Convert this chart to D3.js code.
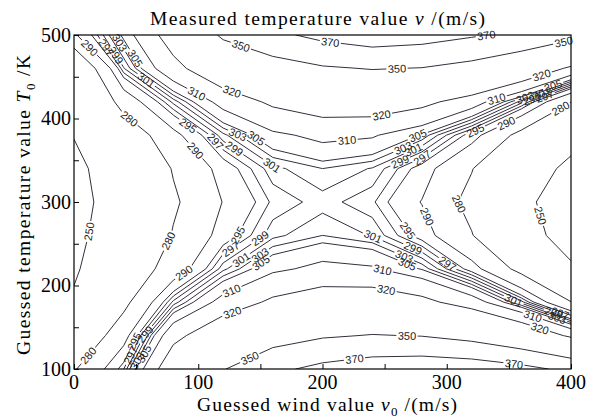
<!DOCTYPE html>
<html><head><meta charset="utf-8">
<script src="https://cdn.jsdelivr.net/npm/d3@7"></script>
<style>body{margin:0;background:#fff}svg{display:block}</style>
</head><body>
<svg id="chart" width="599" height="418"></svg>
<script>
// ---- data ----
const windGrid = [0, 40, 80, 120, 160, 200, 240, 280, 320, 360, 400];
const tempGrid = [100, 140, 180, 220, 260, 300, 340, 380, 420, 460, 500];
// measured temperature on the grid, one array per guessed temperature
const row100 = [279, 297, 330, 349, 365.7, 375, 380.9, 383, 381.3, 375.5, 365.4];
const row140 = [268, 287, 316.3, 330.5, 341.2, 348, 350.8, 349.4, 343.6, 333, 317.6];
const row180 = [253, 277, 299.7, 312.9, 322.1, 327, 327.5, 323.3, 314.2, 300, 280.4];
const row220 = [247, 271.4, 285, 300.3, 308.4, 312, 310.8, 304.6, 293.2, 276.4, 253.8];
const row260 = [244.1, 264.5, 280.8, 292.8, 300.3, 303, 300.8, 293.4, 280.6, 262.2, 237.9];
const row300 = [241.9, 262.2, 278.4, 290.25, 297.5, 300, 297.45, 289.7, 276.4, 257.5, 232.6];
const row340 = [244.1, 264.5, 280.8, 292.8, 300.3, 303, 300.8, 293.4, 280.6, 262.2, 245];
const row380 = [250.8, 271.3, 287.9, 300.3, 308.4, 312, 310.8, 304.6, 293.2, 276.4, 258];
const row420 = [258, 285, 299.7, 312.9, 322.1, 327, 327.5, 323.3, 314.2, 300, 280.4];
const row460 = [266, 298.8, 316.3, 330.5, 341.2, 348, 350.8, 349.4, 343.6, 333, 317.6];
const row500 = [289, 306, 326, 353.2, 365.7, 375, 380.9, 378, 372, 366, 356];
const levels = [250, 280, 290, 295, 297, 299, 301, 303, 305, 310, 320, 350, 370];
const xTicks = [0, 100, 200, 300, 400];
const yTicks = [100, 200, 300, 400, 500];
// contour labels: [level, wind, temperature]
const contourLabels = [
  [290, 12, 484], [297, 22, 481], [303, 34, 488], [299, 32, 474], [305, 47, 470], [301, 59, 448],
  [280, 42, 395], [310, 98, 428], [320, 126, 428], [350, 134, 486],
  [295, 91, 390], [290, 95, 358], [297, 109, 366], [299, 126, 357], [303, 131, 378], [305, 144, 371], [301, 158, 341],
  [250, 15, 264], [280, 78, 252], [290, 90, 212], [295, 132, 260], [297, 125, 246], [299, 151, 254],
  [301, 135, 230], [303, 150, 236], [305, 151, 226], [310, 128, 190], [320, 129, 161], [350, 143, 108],
  [280, 14, 113], [297, 41, 120], [295, 50, 132], [299, 57, 142], [303, 47, 113], [305, 53, 121],
  [370, 206, 488], [350, 260, 458], [320, 248, 400], [310, 220, 370],
  [303, 263, 371], [305, 277, 378], [299, 262, 350], [301, 274, 360], [297, 283, 347],
  [295, 321, 392], [290, 348, 394], [310, 340, 424], [320, 375, 458], [350, 394, 492], [370, 332, 498],
  [280, 391, 414], [303, 362, 430], [299, 368, 425], [301, 375, 436], [297, 380, 422], [305, 385, 442],
  [290, 282, 281], [280, 310, 298], [250, 374, 283], [301, 241, 260], [310, 248, 217], [320, 251, 193],
  [295, 265, 262], [299, 272, 242], [303, 265, 232], [305, 268, 225], [297, 300, 225],
  [301, 354, 183], [310, 370, 167], [320, 375, 149], [299, 388, 175], [297, 392, 170], [303, 388, 158],
  [350, 268, 139], [370, 226, 109], [370, 354, 105]
];

// ---- layout ----
const L = 74, R = 571, T = 35, B = 369;
const svg = d3.select('#chart');
const x = d3.scaleLinear().domain([0, 400]).range([L, R]);
const y = d3.scaleLinear().domain([100, 500]).range([B, T]);
const lineColor = '#352d3c';

const rows = [row100, row140, row180, row220, row260, row300, row340, row380, row420, row460, row500];
const nx = windGrid.length, ny = tempGrid.length;
const values = rows.flat();
const contours = d3.contours().size([nx, ny]).thresholds(levels)(values);
const ix = d3.scaleLinear().domain([0.5, nx - 0.5]).range([windGrid[0], windGrid[nx - 1]]);
const iy = d3.scaleLinear().domain([0.5, ny - 0.5]).range([tempGrid[0], tempGrid[ny - 1]]);
const toPx = p => [x(ix(p[0])), y(iy(p[1]))];
const proj = d3.geoTransform({ point(px, py) { const q = toPx([px, py]); this.stream.point(q[0], q[1]); } });
const path = d3.geoPath(proj);

const defs = svg.append('defs');
defs.append('clipPath').attr('id', 'plotclip').append('rect')
  .attr('x', L).attr('y', T).attr('width', R - L).attr('height', B - T);

const inside = p => p[0] >= L - 0.6 && p[0] <= R + 0.6 && p[1] >= T - 0.6 && p[1] <= B + 0.6;
function segmentsOf(c) {
  const out = [];
  for (const poly of c.coordinates) for (const ring of poly) {
    for (let k = 0; k < ring.length - 1; k++) {
      const a = toPx(ring[k]), b = toPx(ring[k + 1]);
      if (inside(a) && inside(b)) out.push([a, b]);
    }
  }
  return out;
}
function nearest(segs, p) {
  let best = null, bd = Infinity;
  for (const [a, b] of segs) {
    const dx = b[0] - a[0], dy = b[1] - a[1];
    const len2 = dx * dx + dy * dy;
    if (len2 < 1e-9) continue;
    let t = ((p[0] - a[0]) * dx + (p[1] - a[1]) * dy) / len2;
    t = Math.max(0, Math.min(1, t));
    const q = [a[0] + t * dx, a[1] + t * dy];
    const d = Math.hypot(q[0] - p[0], q[1] - p[1]);
    if (d < bd) { bd = d; best = { q, ang: Math.atan2(dy, dx) * 180 / Math.PI }; }
  }
  return bd < 22 ? best : null;
}

const fs = 11;
const placed = [];
contours.forEach((c, i) => {
  const segs = segmentsOf(c);
  const mine = contourLabels.filter(d => d[0] === c.value);
  mine.forEach(d => {
    const hit = nearest(segs, [x(d[1]), y(d[2])]);
    if (!hit) return;
    let a = hit.ang;
    if (a > 90) a -= 180;
    if (a <= -90) a += 180;
    placed.push({ level: c.value, idx: i, px: hit.q[0], py: hit.q[1], a });
  });
});

const mask = defs.selectAll('mask.lv').data(contours).join('mask')
  .attr('class', 'lv').attr('id', (d, i) => 'm' + i)
  .attr('maskUnits', 'userSpaceOnUse').attr('x', 0).attr('y', 0).attr('width', 599).attr('height', 418);
mask.append('rect').attr('x', 0).attr('y', 0).attr('width', 599).attr('height', 418).attr('fill', '#fff');
mask.each(function (c, i) {
  const w = String(c.value).length * 0.556 * fs + 3;
  d3.select(this).selectAll('rect.gap').data(placed.filter(p => p.idx === i)).join('rect')
    .attr('class', 'gap').attr('x', -w / 2).attr('y', -fs * 0.45).attr('width', w).attr('height', fs * 0.9)
    .attr('fill', '#000')
    .attr('transform', p => `translate(${p.px},${p.py}) rotate(${p.a})`);
});

const plot = svg.append('g').attr('clip-path', 'url(#plotclip)');
plot.selectAll('path').data(contours).join('path')
  .attr('d', path)
  .attr('mask', (d, i) => `url(#m${i})`)
  .attr('fill', 'none').attr('stroke', lineColor).attr('stroke-width', 1);

svg.append('g').selectAll('text').data(placed).join('text')
  .attr('transform', p => `translate(${p.px},${p.py}) rotate(${p.a})`)
  .attr('text-anchor', 'middle').attr('dy', '0.36em')
  .attr('font-family', 'Liberation Sans, Arial, sans-serif').attr('font-size', fs)
  .attr('fill', '#222')
  .text(p => p.level);

// ---- axes ----
const xAxis = d3.axisBottom(x).tickValues(d3.range(0, 401, 50)).tickSize(-5).tickFormat('');
const yAxis = d3.axisLeft(y).tickValues(d3.range(100, 501, 50)).tickSize(-5).tickFormat('');
svg.append('g').attr('transform', `translate(0,${B})`).call(xAxis)
  .call(g => g.select('.domain').remove()).selectAll('line').attr('stroke', '#000');
svg.append('g').attr('transform', `translate(${L},0)`).call(yAxis)
  .call(g => g.select('.domain').remove()).selectAll('line').attr('stroke', '#000');
svg.append('rect').attr('x', L).attr('y', T).attr('width', R - L).attr('height', B - T)
  .attr('fill', 'none').attr('stroke', '#000').attr('stroke-width', 1.2);

const serif = 'Liberation Serif, Times New Roman, serif';
svg.append('g').selectAll('text').data(xTicks).join('text')
  .attr('x', d => x(d)).attr('y', 389).attr('text-anchor', 'middle')
  .attr('font-family', serif).attr('font-size', 20).text(d => d);
svg.append('g').selectAll('text').data(yTicks).join('text')
  .attr('x', 71).attr('y', d => y(d) + 6.8).attr('text-anchor', 'end')
  .attr('font-family', serif).attr('font-size', 20).text(d => d);

// title
const title = svg.append('text').attr('x', 150).attr('y', 25)
  .attr('font-family', serif).attr('font-size', 19.5)
  .attr('textLength', 335).attr('lengthAdjust', 'spacing');
title.append('tspan').text('Measured temperature value ');
title.append('tspan').attr('font-style', 'italic').text('v');
title.append('tspan').text(' /(m/s)');

// x label
const xl = svg.append('text').attr('x', 197).attr('y', 411)
  .attr('font-family', serif).attr('font-size', 19.5)
  .attr('textLength', 260).attr('lengthAdjust', 'spacing');
xl.append('tspan').text('Guessed wind value ');
xl.append('tspan').attr('font-style', 'italic').text('v');
xl.append('tspan').attr('font-size', 13).attr('dy', 5).text('0');
xl.append('tspan').attr('dy', -5).text(' /(m/s)');

// y label
const yl = svg.append('text').attr('transform', 'translate(30,355) rotate(-90)')
  .attr('x', 0).attr('y', 0)
  .attr('font-family', serif).attr('font-size', 19.5)
  .attr('textLength', 300).attr('lengthAdjust', 'spacing');
yl.append('tspan').text('Guessed temperature value ');
yl.append('tspan').attr('font-style', 'italic').text('T');
yl.append('tspan').attr('font-size', 13).attr('dy', 5).text('0');
yl.append('tspan').attr('dy', -5).text(' /K');
</script>
</body></html>
